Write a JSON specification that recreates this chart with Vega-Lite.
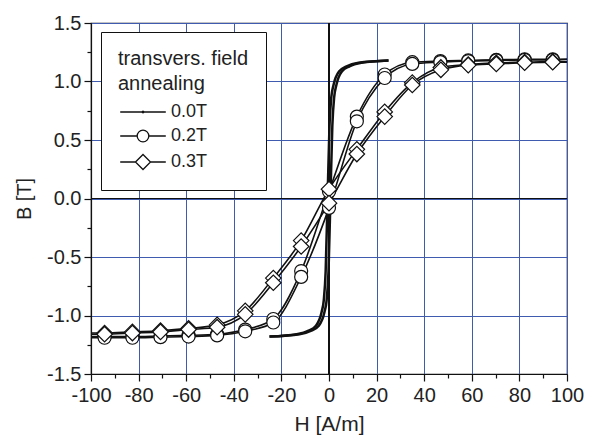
{
  "$schema": "https://vega.github.io/schema/vega-lite/v6.json",
  "width": 476,
  "height": 351,
  "autosize": {"type": "none"},
  "padding": {"left": 91, "top": 23, "right": 26, "bottom": 62},
  "background": "white",
  "config": {
    "font": "Liberation Sans",
    "view": {"stroke": "#111", "strokeWidth": 1.2},
    "axis": {"labelFont": "Liberation Sans", "titleFont": "Liberation Sans", "labelColor": "#222", "titleColor": "#222", "titleFontWeight": "normal", "domainColor": "#111", "tickColor": "#111", "gridColor": "#3f5bb0", "gridWidth": 1, "labelOverlap": false, "labelFlush": false}
  },
  "datasets": {
    "loops": [
      {"s": "0.0T", "b": "d", "H": 25, "B": 1.18, "m": 0},
      {"s": "0.0T", "b": "d", "H": 12.4, "B": 1.16, "m": 0},
      {"s": "0.0T", "b": "d", "H": 7.4, "B": 1.13, "m": 0},
      {"s": "0.0T", "b": "d", "H": 4.4, "B": 1.09, "m": 0},
      {"s": "0.0T", "b": "d", "H": 1.9, "B": 0.97, "m": 0},
      {"s": "0.0T", "b": "d", "H": 1.0, "B": 0.87, "m": 0},
      {"s": "0.0T", "b": "d", "H": 0.2, "B": 0.62, "m": 0},
      {"s": "0.0T", "b": "d", "H": -0.6, "B": 0.0, "m": 0},
      {"s": "0.0T", "b": "d", "H": -1.4, "B": -0.62, "m": 0},
      {"s": "0.0T", "b": "d", "H": -2.2, "B": -0.87, "m": 0},
      {"s": "0.0T", "b": "d", "H": -3.1, "B": -0.97, "m": 0},
      {"s": "0.0T", "b": "d", "H": -5.6, "B": -1.09, "m": 0},
      {"s": "0.0T", "b": "d", "H": -8.6, "B": -1.13, "m": 0},
      {"s": "0.0T", "b": "d", "H": -13.6, "B": -1.16, "m": 0},
      {"s": "0.0T", "b": "d", "H": -25, "B": -1.18, "m": 0},
      {"s": "0.0T", "b": "a", "H": -25, "B": -1.18, "m": 0},
      {"s": "0.0T", "b": "a", "H": -12.4, "B": -1.16, "m": 0},
      {"s": "0.0T", "b": "a", "H": -7.4, "B": -1.13, "m": 0},
      {"s": "0.0T", "b": "a", "H": -4.4, "B": -1.09, "m": 0},
      {"s": "0.0T", "b": "a", "H": -1.9, "B": -0.97, "m": 0},
      {"s": "0.0T", "b": "a", "H": -1.0, "B": -0.87, "m": 0},
      {"s": "0.0T", "b": "a", "H": -0.2, "B": -0.62, "m": 0},
      {"s": "0.0T", "b": "a", "H": 0.6, "B": 0.0, "m": 0},
      {"s": "0.0T", "b": "a", "H": 1.4, "B": 0.62, "m": 0},
      {"s": "0.0T", "b": "a", "H": 2.2, "B": 0.87, "m": 0},
      {"s": "0.0T", "b": "a", "H": 3.1, "B": 0.97, "m": 0},
      {"s": "0.0T", "b": "a", "H": 5.6, "B": 1.09, "m": 0},
      {"s": "0.0T", "b": "a", "H": 8.6, "B": 1.13, "m": 0},
      {"s": "0.0T", "b": "a", "H": 13.6, "B": 1.16, "m": 0},
      {"s": "0.0T", "b": "a", "H": 25, "B": 1.18, "m": 0},

      {"s": "0.2T", "b": "d", "H": 100, "B": 1.19, "m": 0},
      {"s": "0.2T", "b": "d", "H": 94, "B": 1.19, "m": 1},
      {"s": "0.2T", "b": "d", "H": 82.2, "B": 1.19, "m": 1},
      {"s": "0.2T", "b": "d", "H": 70.3, "B": 1.185, "m": 1},
      {"s": "0.2T", "b": "d", "H": 58.5, "B": 1.18, "m": 1},
      {"s": "0.2T", "b": "d", "H": 46.8, "B": 1.175, "m": 1},
      {"s": "0.2T", "b": "d", "H": 35, "B": 1.165, "m": 1},
      {"s": "0.2T", "b": "d", "H": 23.4, "B": 1.06, "m": 1},
      {"s": "0.2T", "b": "d", "H": 11.7, "B": 0.7, "m": 1},
      {"s": "0.2T", "b": "d", "H": 0, "B": 0.06, "m": 1},
      {"s": "0.2T", "b": "d", "H": -11.7, "B": -0.62, "m": 1},
      {"s": "0.2T", "b": "d", "H": -23.4, "B": -1.03, "m": 1},
      {"s": "0.2T", "b": "d", "H": -35.2, "B": -1.12, "m": 1},
      {"s": "0.2T", "b": "d", "H": -47, "B": -1.16, "m": 1},
      {"s": "0.2T", "b": "d", "H": -59, "B": -1.17, "m": 1},
      {"s": "0.2T", "b": "d", "H": -70.8, "B": -1.175, "m": 1},
      {"s": "0.2T", "b": "d", "H": -82.6, "B": -1.18, "m": 1},
      {"s": "0.2T", "b": "d", "H": -94.3, "B": -1.18, "m": 1},
      {"s": "0.2T", "b": "d", "H": -100, "B": -1.18, "m": 0},
      {"s": "0.2T", "b": "a", "H": -100, "B": -1.19, "m": 0},
      {"s": "0.2T", "b": "a", "H": -94.3, "B": -1.19, "m": 1},
      {"s": "0.2T", "b": "a", "H": -82.6, "B": -1.19, "m": 1},
      {"s": "0.2T", "b": "a", "H": -70.8, "B": -1.185, "m": 1},
      {"s": "0.2T", "b": "a", "H": -59, "B": -1.18, "m": 1},
      {"s": "0.2T", "b": "a", "H": -47, "B": -1.17, "m": 1},
      {"s": "0.2T", "b": "a", "H": -35.2, "B": -1.135, "m": 1},
      {"s": "0.2T", "b": "a", "H": -23.4, "B": -1.06, "m": 1},
      {"s": "0.2T", "b": "a", "H": -11.7, "B": -0.67, "m": 1},
      {"s": "0.2T", "b": "a", "H": 0, "B": -0.08, "m": 1},
      {"s": "0.2T", "b": "a", "H": 11.7, "B": 0.66, "m": 1},
      {"s": "0.2T", "b": "a", "H": 23.4, "B": 1.03, "m": 1},
      {"s": "0.2T", "b": "a", "H": 35, "B": 1.15, "m": 1},
      {"s": "0.2T", "b": "a", "H": 46.8, "B": 1.165, "m": 1},
      {"s": "0.2T", "b": "a", "H": 58.5, "B": 1.175, "m": 1},
      {"s": "0.2T", "b": "a", "H": 70.3, "B": 1.18, "m": 1},
      {"s": "0.2T", "b": "a", "H": 82.2, "B": 1.185, "m": 1},
      {"s": "0.2T", "b": "a", "H": 94, "B": 1.185, "m": 1},
      {"s": "0.2T", "b": "a", "H": 100, "B": 1.19, "m": 0},

      {"s": "0.3T", "b": "d", "H": 100, "B": 1.17, "m": 0},
      {"s": "0.3T", "b": "d", "H": 94, "B": 1.17, "m": 1},
      {"s": "0.3T", "b": "d", "H": 82.2, "B": 1.165, "m": 1},
      {"s": "0.3T", "b": "d", "H": 70.3, "B": 1.16, "m": 1},
      {"s": "0.3T", "b": "d", "H": 58.5, "B": 1.145, "m": 1},
      {"s": "0.3T", "b": "d", "H": 47, "B": 1.12, "m": 1},
      {"s": "0.3T", "b": "d", "H": 35, "B": 0.99, "m": 1},
      {"s": "0.3T", "b": "d", "H": 23.4, "B": 0.74, "m": 1},
      {"s": "0.3T", "b": "d", "H": 11.7, "B": 0.42, "m": 1},
      {"s": "0.3T", "b": "d", "H": 0, "B": 0.08, "m": 1},
      {"s": "0.3T", "b": "d", "H": -11.7, "B": -0.36, "m": 1},
      {"s": "0.3T", "b": "d", "H": -23.4, "B": -0.68, "m": 1},
      {"s": "0.3T", "b": "d", "H": -35.2, "B": -0.96, "m": 1},
      {"s": "0.3T", "b": "d", "H": -47, "B": -1.08, "m": 1},
      {"s": "0.3T", "b": "d", "H": -59, "B": -1.11, "m": 1},
      {"s": "0.3T", "b": "d", "H": -70.8, "B": -1.13, "m": 1},
      {"s": "0.3T", "b": "d", "H": -82.6, "B": -1.14, "m": 1},
      {"s": "0.3T", "b": "d", "H": -94.3, "B": -1.15, "m": 1},
      {"s": "0.3T", "b": "d", "H": -100, "B": -1.15, "m": 0},
      {"s": "0.3T", "b": "a", "H": -100, "B": -1.16, "m": 0},
      {"s": "0.3T", "b": "a", "H": -94.3, "B": -1.16, "m": 1},
      {"s": "0.3T", "b": "a", "H": -82.6, "B": -1.15, "m": 1},
      {"s": "0.3T", "b": "a", "H": -70.8, "B": -1.14, "m": 1},
      {"s": "0.3T", "b": "a", "H": -59, "B": -1.12, "m": 1},
      {"s": "0.3T", "b": "a", "H": -47, "B": -1.1, "m": 1},
      {"s": "0.3T", "b": "a", "H": -35.2, "B": -0.99, "m": 1},
      {"s": "0.3T", "b": "a", "H": -23.4, "B": -0.72, "m": 1},
      {"s": "0.3T", "b": "a", "H": -11.7, "B": -0.41, "m": 1},
      {"s": "0.3T", "b": "a", "H": 0, "B": -0.04, "m": 1},
      {"s": "0.3T", "b": "a", "H": 11.7, "B": 0.38, "m": 1},
      {"s": "0.3T", "b": "a", "H": 23.4, "B": 0.7, "m": 1},
      {"s": "0.3T", "b": "a", "H": 35, "B": 0.97, "m": 1},
      {"s": "0.3T", "b": "a", "H": 47, "B": 1.1, "m": 1},
      {"s": "0.3T", "b": "a", "H": 58.5, "B": 1.14, "m": 1},
      {"s": "0.3T", "b": "a", "H": 70.3, "B": 1.15, "m": 1},
      {"s": "0.3T", "b": "a", "H": 82.2, "B": 1.16, "m": 1},
      {"s": "0.3T", "b": "a", "H": 94, "B": 1.165, "m": 1},
      {"s": "0.3T", "b": "a", "H": 100, "B": 1.165, "m": 0}
    ]
  },
  "data": {"name": "loops"},
  "encoding": {
    "x": {
      "field": "H", "type": "quantitative",
      "scale": {"domain": [-100, 100], "nice": false, "zero": false},
      "axis": {
        "title": "H [A/m]", "titleFontSize": 21, "titlePadding": 8,
        "values": [-100, -90, -80, -70, -60, -50, -40, -30, -20, -10, 0, 10, 20, 30, 40, 50, 60, 70, 80, 90, 100],
        "labelExpr": "datum.value % 20 === 0 ? replace(format(datum.value, 'd'), '\u2212', '-') : ''",
        "labelFontSize": 20, "labelPadding": 4,
        "tickSize": {"condition": {"test": "datum.value % 20 === 0", "value": 7}, "value": 4},
        "tickWidth": 1.2, "domainWidth": 1.2,
        "grid": true,
        "gridOpacity": {"condition": {"test": "datum.value % 20 !== 0", "value": 0}, "value": 1}
      }
    },
    "y": {
      "field": "B", "type": "quantitative",
      "scale": {"domain": [-1.5, 1.5], "nice": false, "zero": false},
      "axis": {
        "title": "B [T]", "titleFontSize": 20, "titlePadding": 12,
        "values": [-1.5, -1.25, -1, -0.75, -0.5, -0.25, 0, 0.25, 0.5, 0.75, 1, 1.25, 1.5],
        "labelExpr": "abs(datum.value * 2 - round(datum.value * 2)) < 0.001 ? replace(format(datum.value, '.1f'), '\u2212', '-') : ''",
        "labelFontSize": 20, "labelPadding": 3,
        "tickSize": {"condition": {"test": "abs(datum.value * 2 - round(datum.value * 2)) < 0.001", "value": 7}, "value": 4},
        "tickWidth": 1.2, "domainWidth": 1.2,
        "grid": true,
        "gridOpacity": {"condition": {"test": "abs(datum.value * 2 - round(datum.value * 2)) > 0.001", "value": 0}, "value": 1}
      }
    }
  },
  "layer": [
    {"mark": {"type": "rule", "color": "#111", "strokeWidth": 1.2}, "encoding": {"x": {"datum": 0}, "y": null}},
    {"mark": {"type": "rule", "color": "#111", "strokeWidth": 1.2}, "encoding": {"y": {"datum": 0}, "x": null}},
    {
      "transform": [{"filter": "datum.s === '0.0T'"}],
      "mark": {"type": "line", "color": "#111", "strokeWidth": 2.5, "interpolate": "monotone", "clip": true},
      "encoding": {"detail": {"field": "b"}}
    },
    {
      "transform": [{"filter": "datum.s !== '0.0T'"}],
      "mark": {"type": "line", "color": "#111", "strokeWidth": 1.6, "interpolate": "monotone", "clip": true},
      "encoding": {"detail": [{"field": "s"}, {"field": "b"}]}
    },
    {
      "transform": [{"filter": "datum.s === '0.2T' && datum.m === 1"}],
      "mark": {"type": "point", "shape": "circle", "filled": true, "fill": "white", "stroke": "#111", "strokeWidth": 1.2, "size": 169, "opacity": 1}
    },
    {
      "transform": [{"filter": "datum.s === '0.3T' && datum.m === 1"}],
      "mark": {"type": "point", "shape": "diamond", "filled": true, "fill": "white", "stroke": "#111", "strokeWidth": 1.2, "size": 240, "opacity": 1}
    },
    {
      "transform": [{"filter": "datum.m > 1"}],
      "mark": {"type": "point", "filled": false, "stroke": "#111"},
      "encoding": {
        "shape": {
          "field": "s", "type": "nominal",
          "scale": {
            "domain": ["0.0T", "0.2T", "0.3T"],
            "range": [
              "M-3.8,0H3.8M-0.15,0A0.15,0.15 0 1,0 0.15,0A0.15,0.15 0 1,0 -0.15,0",
              "M-3.8,0H-0.97M0.97,0H3.8M-0.97,0A0.97,0.97 0 1,0 0.97,0A0.97,0.97 0 1,0 -0.97,0Z",
              "M-3.8,0H-1.25M1.25,0H3.8M-1.25,0L0,-1.25L1.25,0L0,1.25Z"
            ]
          },
          "legend": {
            "title": ["transvers. field", "annealing"],
            "orient": "none", "legendX": 10, "legendY": 9,
            "padding": 17, "strokeColor": "#111", "fillColor": "white",
            "titleFontSize": 20, "titleFontWeight": "normal", "titleColor": "#222", "titleFont": "Liberation Sans", "titleLineHeight": 25, "titlePadding": 9,
            "labelFontSize": 18, "labelColor": "#222", "labelFont": "Liberation Sans", "labelOffset": 19,
            "symbolSize": 144, "symbolOffset": 16, "symbolStrokeWidth": 1.3, "symbolStrokeColor": "#111", "symbolFillColor": "white", "symbolOpacity": 1,
            "rowPadding": 6
          }
        }
      }
    }
  ]
}
